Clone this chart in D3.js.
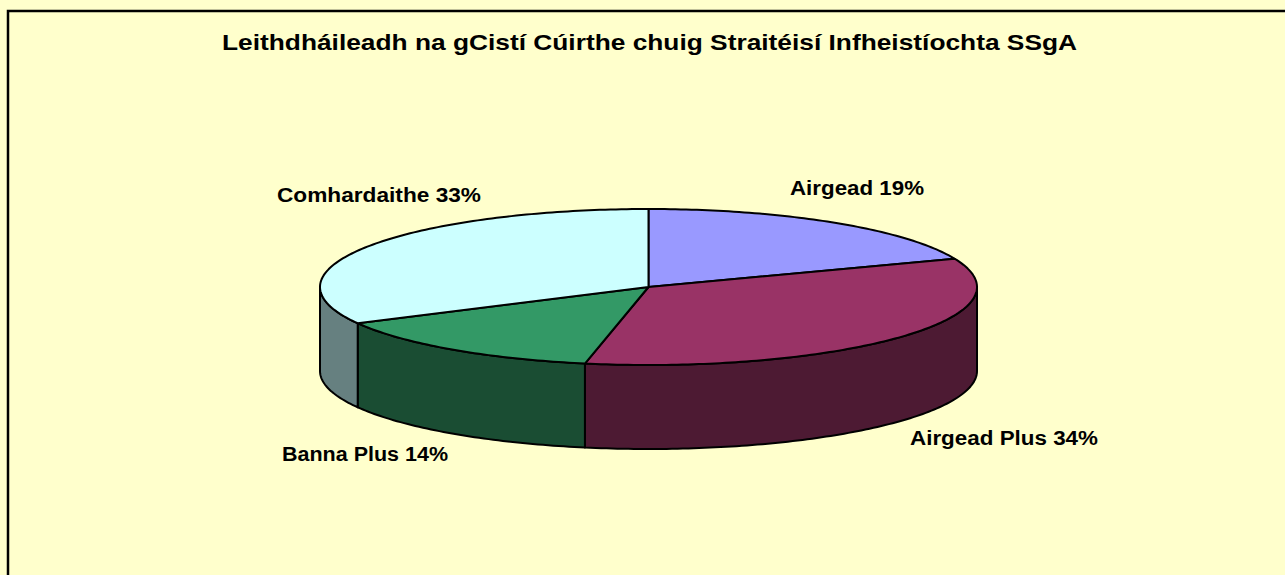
<!DOCTYPE html>
<html>
<head>
<meta charset="utf-8">
<script src="https://cdnjs.cloudflare.com/ajax/libs/d3/7.8.5/d3.min.js"></script>
<style>
  html, body { margin: 0; padding: 0; background: #fff; }
  svg { display: block; }
  text { font-family: "Liberation Sans", Arial, sans-serif; font-weight: bold; fill: #000; }
</style>
</head>
<body>
<svg id="chart" width="1285" height="575"></svg>
<script>
// values, labels show them rounded
const title = "Leithdháileadh na gCistí Cúirthe chuig Straitéisí Infheistíochta SSgA";
const categories = ["Airgead", "Airgead Plus", "Banna Plus", "Comhardaithe"];
const shares = [19.1, 34, 14.2, 32.7];
const topColors = ["#9999ff", "#993366", "#339966", "#ccffff"];
const wallColors = ["#4d4d80", "#4d1a33", "#1a4d33", "#668080"];

// label anchors and widths, in pixels (the reference text is stretched sideways)
const labelX = [790, 910, 282, 277];
const labelY = [195, 445, 460.5, 202];
const labelW = [134, 188, 166, 204];

const width = 1285, height = 575;
const cx = 648.5, cy = 287, rx = 328.5, ry = 78, depth = 84;

const svg = d3.select("#chart");

svg.append("rect")
    .attr("width", width).attr("height", height)
    .attr("fill", "#ffffcc");

// frame only shows on the top and left
svg.append("path")
    .attr("d", d3.line()([[8, height], [8, 11], [width, 11]]))
    .attr("fill", "none")
    .attr("stroke", "#000")
    .attr("stroke-width", 2.5);

svg.append("text")
    .attr("x", 222).attr("y", 49.5)
    .attr("textLength", 855)
    .attr("lengthAdjust", "spacingAndGlyphs")
    .style("font-size", "22.5px")
    .text(title);

// angle 0 is 12 o'clock, going clockwise
const arcs = d3.pie().sort(null)(shares);
const px = d3.scaleLinear().domain([-1, 1]).range([cx - rx, cx + rx]);
const py = d3.scaleLinear().domain([-1, 1]).range([cy - ry, cy + ry]);
const ptAt = (a, dz) => [px(Math.sin(a)), py(-Math.cos(a)) + dz];

function rim(a0, a1, dz) {
    const n = Math.max(2, Math.ceil((a1 - a0) * 60));
    return d3.range(n + 1).map(i => ptAt(a0 + (a1 - a0) * i / n, dz));
}

const line = d3.line();
const g = svg.append("g")
    .attr("stroke", "#000")
    .attr("stroke-width", 2)
    .attr("stroke-linejoin", "round");

// side walls, only the front half of the rim is seen
const frontStart = Math.PI / 2, frontEnd = Math.PI * 3 / 2;
arcs.forEach(d => {
    const a0 = Math.max(d.startAngle, frontStart);
    const a1 = Math.min(d.endAngle, frontEnd);
    if (a1 <= a0) return;
    const pts = rim(a0, a1, 0).concat(rim(a0, a1, depth).reverse());
    g.append("path")
        .attr("d", line(pts) + "Z")
        .attr("fill", wallColors[d.index]);
});

// top faces
arcs.forEach(d => {
    const pts = [[cx, cy]].concat(rim(d.startAngle, d.endAngle, 0));
    g.append("path")
        .attr("d", line(pts) + "Z")
        .attr("fill", topColors[d.index]);
});

svg.selectAll(".lbl")
    .data(categories)
    .enter().append("text")
    .attr("class", "lbl")
    .attr("x", (d, i) => labelX[i])
    .attr("y", (d, i) => labelY[i])
    .attr("textLength", (d, i) => labelW[i])
    .attr("lengthAdjust", "spacingAndGlyphs")
    .style("font-size", "20px")
    .text((d, i) => d + " " + Math.round(shares[i]) + "%");
</script>
</body>
</html>
